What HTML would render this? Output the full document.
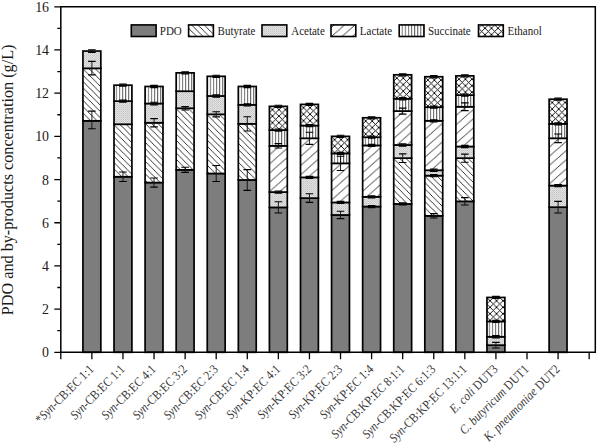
<!DOCTYPE html>
<html><head><meta charset="utf-8"><title>PDO and by-products</title>
<style>
html,body{margin:0;padding:0;background:#fff;}
body{width:597px;height:445px;overflow:hidden;}
svg{display:block;font-family:"Liberation Serif",serif;}
</style></head><body>
<svg width="597" height="445" viewBox="0 0 597 445">
<defs>
<pattern id="pB" patternUnits="userSpaceOnUse" width="6.3" height="6.3"><rect width="6.3" height="6.3" fill="#fff"/><path d="M-1,-1 L7.3,7.3 M-7.3,-1 L1,7.3 M5.3,-1 L13.6,7.3" stroke="#111" stroke-width="0.85"/></pattern>
<pattern id="pL" patternUnits="userSpaceOnUse" width="10.4" height="9.2"><rect width="10.4" height="9.2" fill="#fff"/><path d="M0,9.2 L10.4,0 M-10.4,9.2 L0,0 M10.4,9.2 L20.8,0" stroke="#111" stroke-width="0.85"/></pattern>
<pattern id="pA" patternUnits="userSpaceOnUse" width="2" height="2"><rect width="2" height="2" fill="#e2e2e2"/><rect width="1" height="1" fill="#c4c4c4"/><rect x="1" y="1" width="1" height="1" fill="#d0d0d0"/></pattern>
<pattern id="pS" patternUnits="userSpaceOnUse" width="3.1" height="10"><rect width="3.1" height="10" fill="#fff"/><rect x="0" width="1" height="10" fill="#666"/></pattern>
<pattern id="pE" patternUnits="userSpaceOnUse" width="6.5" height="6.5"><rect width="6.5" height="6.5" fill="#fff"/><path d="M-1,-1 L7.5,7.5 M-1,7.5 L7.5,-1" stroke="#000" stroke-width="0.9"/></pattern>
</defs>
<rect x="82.93" y="120.8" width="17.9" height="231.5" fill="#7d7d7d" stroke="#000" stroke-width="1.7"/>
<g transform="translate(91.88,71.53)"><rect x="-8.95" y="-3.2" width="17.9" height="52.48" fill="url(#pB)" stroke="#000" stroke-width="1.7"/></g>
<g transform="translate(92,51)"><rect x="-9.07" y="0.05" width="17.9" height="17.28" fill="url(#pA)" stroke="#000" stroke-width="1.7"/></g>
<path d="M91.88,111.08V128.79" stroke="#111" stroke-width="0.95" fill="none"/><path d="M88.08,111.08H95.68M88.08,128.79H95.68" stroke="#000" stroke-width="1.15" fill="none"/>
<path d="M91.88,61.42V74.8" stroke="#111" stroke-width="0.95" fill="none"/><path d="M88.08,61.42H95.68M88.08,74.8H95.68" stroke="#000" stroke-width="1.15" fill="none"/>
<path d="M91.88,49.75V52.35" stroke="#111" stroke-width="0.95" fill="none"/><path d="M88.08,49.75H95.68M88.08,52.35H95.68" stroke="#000" stroke-width="1.15" fill="none"/>
<rect x="114.01" y="176.73" width="17.9" height="175.57" fill="#7d7d7d" stroke="#000" stroke-width="1.7"/>
<g transform="translate(122.96,127.46)"><rect x="-8.95" y="-3.2" width="17.9" height="52.48" fill="url(#pB)" stroke="#000" stroke-width="1.7"/></g>
<g transform="translate(123,101)"><rect x="-8.99" y="0.15" width="17.9" height="23.11" fill="url(#pA)" stroke="#000" stroke-width="1.7"/></g>
<g transform="translate(122,85.17)"><rect x="-7.99" y="0" width="17.9" height="15.98" fill="url(#pS)" stroke="#000" stroke-width="1.7"/></g>
<path d="M122.96,171.98V181.48" stroke="#111" stroke-width="0.95" fill="none"/><path d="M119.16,171.98H126.76M119.16,181.48H126.76" stroke="#000" stroke-width="1.15" fill="none"/>
<path d="M122.96,100.07V102.23" stroke="#111" stroke-width="0.95" fill="none"/><path d="M119.16,100.07H126.76M119.16,102.23H126.76" stroke="#000" stroke-width="1.15" fill="none"/>
<path d="M122.96,84.09V86.25" stroke="#111" stroke-width="0.95" fill="none"/><path d="M119.16,84.09H126.76M119.16,86.25H126.76" stroke="#000" stroke-width="1.15" fill="none"/>
<rect x="145.09" y="182.56" width="17.9" height="169.74" fill="#7d7d7d" stroke="#000" stroke-width="1.7"/>
<g transform="translate(154.04,125.95)"><rect x="-8.95" y="-3.2" width="17.9" height="59.82" fill="url(#pB)" stroke="#000" stroke-width="1.7"/></g>
<g transform="translate(154,104)"><rect x="-8.91" y="-0.47" width="17.9" height="19.22" fill="url(#pA)" stroke="#000" stroke-width="1.7"/></g>
<g transform="translate(154,86.47)"><rect x="-8.91" y="0" width="17.9" height="17.06" fill="url(#pS)" stroke="#000" stroke-width="1.7"/></g>
<path d="M154.04,178.03V187.1" stroke="#111" stroke-width="0.95" fill="none"/><path d="M150.24,178.03H157.84M150.24,187.1H157.84" stroke="#000" stroke-width="1.15" fill="none"/>
<path d="M154.04,118.64V126.85" stroke="#111" stroke-width="0.95" fill="none"/><path d="M150.24,118.64H157.84M150.24,126.85H157.84" stroke="#000" stroke-width="1.15" fill="none"/>
<path d="M154.04,102.23V104.82" stroke="#111" stroke-width="0.95" fill="none"/><path d="M150.24,102.23H157.84M150.24,104.82H157.84" stroke="#000" stroke-width="1.15" fill="none"/>
<path d="M154.04,85.39V87.55" stroke="#111" stroke-width="0.95" fill="none"/><path d="M150.24,85.39H157.84M150.24,87.55H157.84" stroke="#000" stroke-width="1.15" fill="none"/>
<rect x="176.17" y="169.82" width="17.9" height="182.48" fill="#7d7d7d" stroke="#000" stroke-width="1.7"/>
<g transform="translate(185.12,111.48)"><rect x="-8.95" y="-3.2" width="17.9" height="61.55" fill="url(#pB)" stroke="#000" stroke-width="1.7"/></g>
<g transform="translate(185,91)"><rect x="-8.83" y="0.22" width="17.9" height="17.06" fill="url(#pA)" stroke="#000" stroke-width="1.7"/></g>
<g transform="translate(185,72.86)"><rect x="-8.83" y="0" width="17.9" height="18.36" fill="url(#pS)" stroke="#000" stroke-width="1.7"/></g>
<path d="M185.12,167.23V172.41" stroke="#111" stroke-width="0.95" fill="none"/><path d="M181.32,167.23H188.92M181.32,172.41H188.92" stroke="#000" stroke-width="1.15" fill="none"/>
<path d="M185.12,106.55V110" stroke="#111" stroke-width="0.95" fill="none"/><path d="M181.32,106.55H188.92M181.32,110H188.92" stroke="#000" stroke-width="1.15" fill="none"/>
<path d="M185.12,71.78V73.94" stroke="#111" stroke-width="0.95" fill="none"/><path d="M181.32,71.78H188.92M181.32,73.94H188.92" stroke="#000" stroke-width="1.15" fill="none"/>
<rect x="207.25" y="173.49" width="17.9" height="178.81" fill="#7d7d7d" stroke="#000" stroke-width="1.7"/>
<g transform="translate(216.2,117.52)"><rect x="-8.95" y="-3.2" width="17.9" height="59.17" fill="url(#pB)" stroke="#000" stroke-width="1.7"/></g>
<g transform="translate(216,96)"><rect x="-8.75" y="-0.03" width="17.9" height="18.36" fill="url(#pA)" stroke="#000" stroke-width="1.7"/></g>
<g transform="translate(216,76.32)"><rect x="-8.75" y="0" width="17.9" height="19.65" fill="url(#pS)" stroke="#000" stroke-width="1.7"/></g>
<path d="M216.2,165.5V181.48" stroke="#111" stroke-width="0.95" fill="none"/><path d="M212.4,165.5H220M212.4,181.48H220" stroke="#000" stroke-width="1.15" fill="none"/>
<path d="M216.2,111.73V116.91" stroke="#111" stroke-width="0.95" fill="none"/><path d="M212.4,111.73H220M212.4,116.91H220" stroke="#000" stroke-width="1.15" fill="none"/>
<path d="M216.2,94.89V97.05" stroke="#111" stroke-width="0.95" fill="none"/><path d="M212.4,94.89H220M212.4,97.05H220" stroke="#000" stroke-width="1.15" fill="none"/>
<path d="M216.2,75.24V77.4" stroke="#111" stroke-width="0.95" fill="none"/><path d="M212.4,75.24H220M212.4,77.4H220" stroke="#000" stroke-width="1.15" fill="none"/>
<rect x="238.33" y="179.97" width="17.9" height="172.33" fill="#7d7d7d" stroke="#000" stroke-width="1.7"/>
<g transform="translate(247.28,127.02)"><rect x="-8.95" y="-3.2" width="17.9" height="56.15" fill="url(#pB)" stroke="#000" stroke-width="1.7"/></g>
<g transform="translate(247,105)"><rect x="-8.67" y="-0.18" width="17.9" height="19" fill="url(#pA)" stroke="#000" stroke-width="1.7"/></g>
<g transform="translate(247,86.47)"><rect x="-8.67" y="0" width="17.9" height="18.36" fill="url(#pS)" stroke="#000" stroke-width="1.7"/></g>
<path d="M247.28,169.61V190.34" stroke="#111" stroke-width="0.95" fill="none"/><path d="M243.48,169.61H251.08M243.48,190.34H251.08" stroke="#000" stroke-width="1.15" fill="none"/>
<path d="M247.28,116.7V130.95" stroke="#111" stroke-width="0.95" fill="none"/><path d="M243.48,116.7H251.08M243.48,130.95H251.08" stroke="#000" stroke-width="1.15" fill="none"/>
<path d="M247.28,103.74V105.9" stroke="#111" stroke-width="0.95" fill="none"/><path d="M243.48,103.74H251.08M243.48,105.9H251.08" stroke="#000" stroke-width="1.15" fill="none"/>
<path d="M247.28,85.39V87.55" stroke="#111" stroke-width="0.95" fill="none"/><path d="M243.48,85.39H251.08M243.48,87.55H251.08" stroke="#000" stroke-width="1.15" fill="none"/>
<rect x="269.41" y="207.4" width="17.9" height="144.9" fill="#7d7d7d" stroke="#000" stroke-width="1.7"/>
<g transform="translate(278,192)"><rect x="-8.59" y="0.07" width="17.9" height="15.33" fill="url(#pA)" stroke="#000" stroke-width="1.7"/></g>
<g transform="translate(278.36,146.95)"><rect x="-8.95" y="-1.1" width="17.9" height="46.21" fill="url(#pL)" stroke="#000" stroke-width="1.7"/></g>
<g transform="translate(278,130.09)"><rect x="-8.59" y="0" width="17.9" height="15.76" fill="url(#pS)" stroke="#000" stroke-width="1.7"/></g>
<g transform="translate(278.96,109.63)"><rect x="-9.55" y="-3.3" width="17.9" height="23.75" fill="url(#pE)" stroke="#000" stroke-width="1.7"/></g>
<path d="M278.36,201.78V213.01" stroke="#111" stroke-width="0.95" fill="none"/><path d="M274.56,201.78H282.16M274.56,213.01H282.16" stroke="#000" stroke-width="1.15" fill="none"/>
<path d="M278.36,190.99V193.14" stroke="#111" stroke-width="0.95" fill="none"/><path d="M274.56,190.99H282.16M274.56,193.14H282.16" stroke="#000" stroke-width="1.15" fill="none"/>
<path d="M278.36,143.69V148.01" stroke="#111" stroke-width="0.95" fill="none"/><path d="M274.56,143.69H282.16M274.56,148.01H282.16" stroke="#000" stroke-width="1.15" fill="none"/>
<path d="M278.36,129.01V131.17" stroke="#111" stroke-width="0.95" fill="none"/><path d="M274.56,129.01H282.16M274.56,131.17H282.16" stroke="#000" stroke-width="1.15" fill="none"/>
<path d="M278.36,105.25V107.41" stroke="#111" stroke-width="0.95" fill="none"/><path d="M274.56,105.25H282.16M274.56,107.41H282.16" stroke="#000" stroke-width="1.15" fill="none"/>
<rect x="300.49" y="198.11" width="17.9" height="154.19" fill="#7d7d7d" stroke="#000" stroke-width="1.7"/>
<g transform="translate(309,177)"><rect x="-8.51" y="0.38" width="17.9" height="20.73" fill="url(#pA)" stroke="#000" stroke-width="1.7"/></g>
<g transform="translate(309.44,139.39)"><rect x="-8.95" y="-1.1" width="17.9" height="39.09" fill="url(#pL)" stroke="#000" stroke-width="1.7"/></g>
<g transform="translate(309,125.55)"><rect x="-8.51" y="0" width="17.9" height="12.74" fill="url(#pS)" stroke="#000" stroke-width="1.7"/></g>
<g transform="translate(310.04,107.69)"><rect x="-9.55" y="-3.3" width="17.9" height="21.16" fill="url(#pE)" stroke="#000" stroke-width="1.7"/></g>
<path d="M309.44,193.79V202.43" stroke="#111" stroke-width="0.95" fill="none"/><path d="M305.64,193.79H313.24M305.64,202.43H313.24" stroke="#000" stroke-width="1.15" fill="none"/>
<path d="M309.44,176.3V178.46" stroke="#111" stroke-width="0.95" fill="none"/><path d="M305.64,176.3H313.24M305.64,178.46H313.24" stroke="#000" stroke-width="1.15" fill="none"/>
<path d="M309.44,132.25V144.34" stroke="#111" stroke-width="0.95" fill="none"/><path d="M305.64,132.25H313.24M305.64,144.34H313.24" stroke="#000" stroke-width="1.15" fill="none"/>
<path d="M309.44,124.47V126.63" stroke="#111" stroke-width="0.95" fill="none"/><path d="M305.64,124.47H313.24M305.64,126.63H313.24" stroke="#000" stroke-width="1.15" fill="none"/>
<path d="M309.44,103.31V105.47" stroke="#111" stroke-width="0.95" fill="none"/><path d="M305.64,103.31H313.24M305.64,105.47H313.24" stroke="#000" stroke-width="1.15" fill="none"/>
<rect x="331.57" y="214.96" width="17.9" height="137.34" fill="#7d7d7d" stroke="#000" stroke-width="1.7"/>
<g transform="translate(341,202)"><rect x="-9.43" y="0.43" width="17.9" height="12.53" fill="url(#pA)" stroke="#000" stroke-width="1.7"/></g>
<g transform="translate(340.52,164.44)"><rect x="-8.95" y="-1.1" width="17.9" height="39.09" fill="url(#pL)" stroke="#000" stroke-width="1.7"/></g>
<g transform="translate(340,153.41)"><rect x="-8.43" y="0" width="17.9" height="9.93" fill="url(#pS)" stroke="#000" stroke-width="1.7"/></g>
<g transform="translate(341.12,139.65)"><rect x="-9.55" y="-3.3" width="17.9" height="17.06" fill="url(#pE)" stroke="#000" stroke-width="1.7"/></g>
<path d="M340.52,211.28V218.63" stroke="#111" stroke-width="0.95" fill="none"/><path d="M336.72,211.28H344.32M336.72,218.63H344.32" stroke="#000" stroke-width="1.15" fill="none"/>
<path d="M340.52,201.35V203.51" stroke="#111" stroke-width="0.95" fill="none"/><path d="M336.72,201.35H344.32M336.72,203.51H344.32" stroke="#000" stroke-width="1.15" fill="none"/>
<path d="M340.52,156.22V170.47" stroke="#111" stroke-width="0.95" fill="none"/><path d="M336.72,156.22H344.32M336.72,170.47H344.32" stroke="#000" stroke-width="1.15" fill="none"/>
<path d="M340.52,152.33V154.49" stroke="#111" stroke-width="0.95" fill="none"/><path d="M336.72,152.33H344.32M336.72,154.49H344.32" stroke="#000" stroke-width="1.15" fill="none"/>
<path d="M340.52,135.27V137.43" stroke="#111" stroke-width="0.95" fill="none"/><path d="M336.72,135.27H344.32M336.72,137.43H344.32" stroke="#000" stroke-width="1.15" fill="none"/>
<rect x="362.65" y="206.53" width="17.9" height="145.77" fill="#7d7d7d" stroke="#000" stroke-width="1.7"/>
<g transform="translate(372,197)"><rect x="-9.35" y="-0.18" width="17.9" height="9.72" fill="url(#pA)" stroke="#000" stroke-width="1.7"/></g>
<g transform="translate(371.6,146.52)"><rect x="-8.95" y="-1.1" width="17.9" height="51.4" fill="url(#pL)" stroke="#000" stroke-width="1.7"/></g>
<g transform="translate(371,137.21)"><rect x="-8.35" y="0" width="17.9" height="8.21" fill="url(#pS)" stroke="#000" stroke-width="1.7"/></g>
<g transform="translate(372.2,121.08)"><rect x="-9.55" y="-3.3" width="17.9" height="19.44" fill="url(#pE)" stroke="#000" stroke-width="1.7"/></g>
<path d="M371.6,205.45V207.61" stroke="#111" stroke-width="0.95" fill="none"/><path d="M367.8,205.45H375.4M367.8,207.61H375.4" stroke="#000" stroke-width="1.15" fill="none"/>
<path d="M371.6,195.74V197.9" stroke="#111" stroke-width="0.95" fill="none"/><path d="M367.8,195.74H375.4M367.8,197.9H375.4" stroke="#000" stroke-width="1.15" fill="none"/>
<path d="M371.6,144.34V146.5" stroke="#111" stroke-width="0.95" fill="none"/><path d="M367.8,144.34H375.4M367.8,146.5H375.4" stroke="#000" stroke-width="1.15" fill="none"/>
<path d="M371.6,136.13V138.29" stroke="#111" stroke-width="0.95" fill="none"/><path d="M367.8,136.13H375.4M367.8,138.29H375.4" stroke="#000" stroke-width="1.15" fill="none"/>
<path d="M371.6,116.7V118.86" stroke="#111" stroke-width="0.95" fill="none"/><path d="M367.8,116.7H375.4M367.8,118.86H375.4" stroke="#000" stroke-width="1.15" fill="none"/>
<rect x="393.73" y="203.94" width="17.9" height="148.36" fill="#7d7d7d" stroke="#000" stroke-width="1.7"/>
<g transform="translate(402.68,161.36)"><rect x="-8.95" y="-3.2" width="17.9" height="45.78" fill="url(#pB)" stroke="#000" stroke-width="1.7"/></g>
<g transform="translate(403,145)"><rect x="-9.27" y="-0.01" width="17.9" height="13.17" fill="url(#pA)" stroke="#000" stroke-width="1.7"/></g>
<g transform="translate(402.68,112.18)"><rect x="-8.95" y="-1.1" width="17.9" height="33.9" fill="url(#pL)" stroke="#000" stroke-width="1.7"/></g>
<g transform="translate(402,98.77)"><rect x="-8.27" y="0" width="17.9" height="12.31" fill="url(#pS)" stroke="#000" stroke-width="1.7"/></g>
<g transform="translate(403.28,78.1)"><rect x="-9.55" y="-3.3" width="17.9" height="23.97" fill="url(#pE)" stroke="#000" stroke-width="1.7"/></g>
<path d="M402.68,202.86V205.02" stroke="#111" stroke-width="0.95" fill="none"/><path d="M398.88,202.86H406.48M398.88,205.02H406.48" stroke="#000" stroke-width="1.15" fill="none"/>
<path d="M402.68,153.84V162.48" stroke="#111" stroke-width="0.95" fill="none"/><path d="M398.88,153.84H406.48M398.88,162.48H406.48" stroke="#000" stroke-width="1.15" fill="none"/>
<path d="M402.68,143.91V146.07" stroke="#111" stroke-width="0.95" fill="none"/><path d="M398.88,143.91H406.48M398.88,146.07H406.48" stroke="#000" stroke-width="1.15" fill="none"/>
<path d="M402.68,108.06V114.11" stroke="#111" stroke-width="0.95" fill="none"/><path d="M398.88,108.06H406.48M398.88,114.11H406.48" stroke="#000" stroke-width="1.15" fill="none"/>
<path d="M402.68,97.69V99.85" stroke="#111" stroke-width="0.95" fill="none"/><path d="M398.88,97.69H406.48M398.88,99.85H406.48" stroke="#000" stroke-width="1.15" fill="none"/>
<path d="M402.68,73.72V75.88" stroke="#111" stroke-width="0.95" fill="none"/><path d="M398.88,73.72H406.48M398.88,75.88H406.48" stroke="#000" stroke-width="1.15" fill="none"/>
<rect x="424.81" y="215.82" width="17.9" height="136.48" fill="#7d7d7d" stroke="#000" stroke-width="1.7"/>
<g transform="translate(433.76,178.85)"><rect x="-8.95" y="-3.2" width="17.9" height="40.17" fill="url(#pB)" stroke="#000" stroke-width="1.7"/></g>
<g transform="translate(434,170)"><rect x="-9.19" y="0.25" width="17.9" height="5.4" fill="url(#pA)" stroke="#000" stroke-width="1.7"/></g>
<g transform="translate(433.76,121.9)"><rect x="-8.95" y="-1.1" width="17.9" height="49.45" fill="url(#pL)" stroke="#000" stroke-width="1.7"/></g>
<g transform="translate(433,107.2)"><rect x="-8.19" y="0" width="17.9" height="13.6" fill="url(#pS)" stroke="#000" stroke-width="1.7"/></g>
<g transform="translate(434.36,80.05)"><rect x="-9.55" y="-3.3" width="17.9" height="30.45" fill="url(#pE)" stroke="#000" stroke-width="1.7"/></g>
<path d="M433.76,213.66V217.98" stroke="#111" stroke-width="0.95" fill="none"/><path d="M429.96,213.66H437.56M429.96,217.98H437.56" stroke="#000" stroke-width="1.15" fill="none"/>
<path d="M433.76,174.57V176.73" stroke="#111" stroke-width="0.95" fill="none"/><path d="M429.96,174.57H437.56M429.96,176.73H437.56" stroke="#000" stroke-width="1.15" fill="none"/>
<path d="M433.76,169.17V171.33" stroke="#111" stroke-width="0.95" fill="none"/><path d="M429.96,169.17H437.56M429.96,171.33H437.56" stroke="#000" stroke-width="1.15" fill="none"/>
<path d="M433.76,119.72V121.88" stroke="#111" stroke-width="0.95" fill="none"/><path d="M429.96,119.72H437.56M429.96,121.88H437.56" stroke="#000" stroke-width="1.15" fill="none"/>
<path d="M433.76,106.12V108.28" stroke="#111" stroke-width="0.95" fill="none"/><path d="M429.96,106.12H437.56M429.96,108.28H437.56" stroke="#000" stroke-width="1.15" fill="none"/>
<path d="M433.76,75.67V77.83" stroke="#111" stroke-width="0.95" fill="none"/><path d="M429.96,75.67H437.56M429.96,77.83H437.56" stroke="#000" stroke-width="1.15" fill="none"/>
<rect x="455.89" y="201.35" width="17.9" height="150.95" fill="#7d7d7d" stroke="#000" stroke-width="1.7"/>
<g transform="translate(464.84,161.36)"><rect x="-8.95" y="-3.2" width="17.9" height="43.19" fill="url(#pB)" stroke="#000" stroke-width="1.7"/></g>
<g transform="translate(465,146)"><rect x="-9.11" y="0.5" width="17.9" height="11.66" fill="url(#pA)" stroke="#000" stroke-width="1.7"/></g>
<g transform="translate(464.84,107.86)"><rect x="-8.95" y="-1.1" width="17.9" height="39.73" fill="url(#pL)" stroke="#000" stroke-width="1.7"/></g>
<g transform="translate(464,95.1)"><rect x="-8.11" y="0" width="17.9" height="11.66" fill="url(#pS)" stroke="#000" stroke-width="1.7"/></g>
<g transform="translate(465.44,79.18)"><rect x="-9.55" y="-3.3" width="17.9" height="19.22" fill="url(#pE)" stroke="#000" stroke-width="1.7"/></g>
<path d="M464.84,197.68V205.02" stroke="#111" stroke-width="0.95" fill="none"/><path d="M461.04,197.68H468.64M461.04,205.02H468.64" stroke="#000" stroke-width="1.15" fill="none"/>
<path d="M464.84,154.06V162.26" stroke="#111" stroke-width="0.95" fill="none"/><path d="M461.04,154.06H468.64M461.04,162.26H468.64" stroke="#000" stroke-width="1.15" fill="none"/>
<path d="M464.84,145.42V147.58" stroke="#111" stroke-width="0.95" fill="none"/><path d="M461.04,145.42H468.64M461.04,147.58H468.64" stroke="#000" stroke-width="1.15" fill="none"/>
<path d="M464.84,102.88V110.65" stroke="#111" stroke-width="0.95" fill="none"/><path d="M461.04,102.88H468.64M461.04,110.65H468.64" stroke="#000" stroke-width="1.15" fill="none"/>
<path d="M464.84,94.02V96.18" stroke="#111" stroke-width="0.95" fill="none"/><path d="M461.04,94.02H468.64M461.04,96.18H468.64" stroke="#000" stroke-width="1.15" fill="none"/>
<path d="M464.84,74.8V76.96" stroke="#111" stroke-width="0.95" fill="none"/><path d="M461.04,74.8H468.64M461.04,76.96H468.64" stroke="#000" stroke-width="1.15" fill="none"/>
<rect x="486.97" y="345.17" width="17.9" height="7.13" fill="#7d7d7d" stroke="#000" stroke-width="1.7"/>
<g transform="translate(496,337)"><rect x="-9.03" y="-0.25" width="17.9" height="8.42" fill="url(#pA)" stroke="#000" stroke-width="1.7"/></g>
<g transform="translate(495,321.42)"><rect x="-8.03" y="0" width="17.9" height="15.33" fill="url(#pS)" stroke="#000" stroke-width="1.7"/></g>
<g transform="translate(496.52,300.75)"><rect x="-9.55" y="-3.3" width="17.9" height="23.97" fill="url(#pE)" stroke="#000" stroke-width="1.7"/></g>
<path d="M495.92,342.37V347.98" stroke="#111" stroke-width="0.95" fill="none"/><path d="M492.12,342.37H499.72M492.12,347.98H499.72" stroke="#000" stroke-width="1.15" fill="none"/>
<path d="M495.92,335.67V337.83" stroke="#111" stroke-width="0.95" fill="none"/><path d="M492.12,335.67H499.72M492.12,337.83H499.72" stroke="#000" stroke-width="1.15" fill="none"/>
<path d="M495.92,320.34V322.5" stroke="#111" stroke-width="0.95" fill="none"/><path d="M492.12,320.34H499.72M492.12,322.5H499.72" stroke="#000" stroke-width="1.15" fill="none"/>
<path d="M495.92,296.37V298.53" stroke="#111" stroke-width="0.95" fill="none"/><path d="M492.12,296.37H499.72M492.12,298.53H499.72" stroke="#000" stroke-width="1.15" fill="none"/>
<rect x="549.13" y="207.18" width="17.9" height="145.12" fill="#7d7d7d" stroke="#000" stroke-width="1.7"/>
<g transform="translate(558,186)"><rect x="-8.87" y="-0.41" width="17.9" height="21.59" fill="url(#pA)" stroke="#000" stroke-width="1.7"/></g>
<g transform="translate(558.08,139.39)"><rect x="-8.95" y="-1.1" width="17.9" height="47.29" fill="url(#pL)" stroke="#000" stroke-width="1.7"/></g>
<g transform="translate(558,123.82)"><rect x="-8.87" y="0" width="17.9" height="14.47" fill="url(#pS)" stroke="#000" stroke-width="1.7"/></g>
<g transform="translate(558.68,102.51)"><rect x="-9.55" y="-3.3" width="17.9" height="24.62" fill="url(#pE)" stroke="#000" stroke-width="1.7"/></g>
<path d="M558.08,201.35V213.01" stroke="#111" stroke-width="0.95" fill="none"/><path d="M554.28,201.35H561.88M554.28,213.01H561.88" stroke="#000" stroke-width="1.15" fill="none"/>
<path d="M558.08,184.51V186.67" stroke="#111" stroke-width="0.95" fill="none"/><path d="M554.28,184.51H561.88M554.28,186.67H561.88" stroke="#000" stroke-width="1.15" fill="none"/>
<path d="M558.08,133.97V142.61" stroke="#111" stroke-width="0.95" fill="none"/><path d="M554.28,133.97H561.88M554.28,142.61H561.88" stroke="#000" stroke-width="1.15" fill="none"/>
<path d="M558.08,122.75V124.9" stroke="#111" stroke-width="0.95" fill="none"/><path d="M554.28,122.75H561.88M554.28,124.9H561.88" stroke="#000" stroke-width="1.15" fill="none"/>
<path d="M558.08,98.13V100.29" stroke="#111" stroke-width="0.95" fill="none"/><path d="M554.28,98.13H561.88M554.28,100.29H561.88" stroke="#000" stroke-width="1.15" fill="none"/>
<path d="M60.8,6.8H595.3V352.3H60.8Z" fill="none" stroke="#000" stroke-width="1.5"/>
<path d="M54.3,352.3H60.8M57.3,330.71H60.8M54.3,309.11H60.8M57.3,287.51H60.8M54.3,265.92H60.8M57.3,244.33H60.8M54.3,222.73H60.8M57.3,201.14H60.8M54.3,179.54H60.8M57.3,157.95H60.8M54.3,136.35H60.8M57.3,114.76H60.8M54.3,93.16H60.8M57.3,71.56H60.8M54.3,49.97H60.8M57.3,28.38H60.8M54.3,6.78H60.8M60.8,352.3V359.3M91.88,352.3V359.3M122.96,352.3V359.3M154.04,352.3V359.3M185.12,352.3V359.3M216.2,352.3V359.3M247.28,352.3V359.3M278.36,352.3V359.3M309.44,352.3V359.3M340.52,352.3V359.3M371.6,352.3V359.3M402.68,352.3V359.3M433.76,352.3V359.3M464.84,352.3V359.3M495.92,352.3V359.3M527,352.3V359.3M558.08,352.3V359.3M589.16,352.3V359.3" stroke="#000" stroke-width="1.3" fill="none"/>
<text transform="translate(49.0,357.3) scale(0.89,1)" font-size="15.6" text-anchor="end" fill="#1a1a1a">0</text>
<text transform="translate(49.0,314.11) scale(0.89,1)" font-size="15.6" text-anchor="end" fill="#1a1a1a">2</text>
<text transform="translate(49.0,270.92) scale(0.89,1)" font-size="15.6" text-anchor="end" fill="#1a1a1a">4</text>
<text transform="translate(49.0,227.73) scale(0.89,1)" font-size="15.6" text-anchor="end" fill="#1a1a1a">6</text>
<text transform="translate(49.0,184.54) scale(0.89,1)" font-size="15.6" text-anchor="end" fill="#1a1a1a">8</text>
<text transform="translate(49.0,141.35) scale(0.89,1)" font-size="15.6" text-anchor="end" fill="#1a1a1a">10</text>
<text transform="translate(49.0,98.16) scale(0.89,1)" font-size="15.6" text-anchor="end" fill="#1a1a1a">12</text>
<text transform="translate(49.0,54.97) scale(0.89,1)" font-size="15.6" text-anchor="end" fill="#1a1a1a">14</text>
<text transform="translate(49.0,11.78) scale(0.89,1)" font-size="15.6" text-anchor="end" fill="#1a1a1a">16</text>
<text transform="translate(13.3,315.2) rotate(-90)" font-size="16.2" fill="#1a1a1a">PDO and by-products concentration (g/L)</text>
<rect x="131.3" y="24.9" width="24.8" height="11.6" fill="#7d7d7d" stroke="#000" stroke-width="1.6"/>
<text transform="translate(159.8,34.65) scale(0.925,1)" font-size="11.9" fill="#1a1a1a">PDO</text>
<g transform="translate(201,28.1)"><rect x="-12.4" y="-3.2" width="24.8" height="11.6" fill="url(#pB)" stroke="#000" stroke-width="1.6"/></g>
<text transform="translate(217.6,34.65) scale(0.925,1)" font-size="11.9" fill="#1a1a1a">Butyrate</text>
<g transform="translate(274,25)"><rect x="-12" y="-0.1" width="24.8" height="11.6" fill="url(#pA)" stroke="#000" stroke-width="1.6"/></g>
<text transform="translate(291.2,34.65) scale(0.925,1)" font-size="11.9" fill="#1a1a1a">Acetate</text>
<g transform="translate(343.4,26)"><rect x="-12.4" y="-1.1" width="24.8" height="11.6" fill="url(#pL)" stroke="#000" stroke-width="1.6"/></g>
<text transform="translate(359.8,34.65) scale(0.925,1)" font-size="11.9" fill="#1a1a1a">Lactate</text>
<g transform="translate(411,24.9)"><rect x="-11.8" y="0" width="24.8" height="11.6" fill="url(#pS)" stroke="#000" stroke-width="1.6"/></g>
<text transform="translate(428,34.65) scale(0.925,1)" font-size="11.9" fill="#1a1a1a">Succinate</text>
<g transform="translate(491.5,28.2)"><rect x="-13" y="-3.3" width="24.8" height="11.6" fill="url(#pE)" stroke="#000" stroke-width="1.6"/></g>
<text transform="translate(507.6,34.65) scale(0.925,1)" font-size="11.9" fill="#1a1a1a">Ethanol</text>
<text transform="translate(94.48,370) rotate(-45) scale(0.89,1)" font-size="12.9" text-anchor="end" fill="#383838">*<tspan font-style="italic">Syn</tspan>-CB:EC 1:1</text>
<text transform="translate(125.56,370) rotate(-45) scale(0.89,1)" font-size="12.9" text-anchor="end" fill="#383838"><tspan font-style="italic">Syn</tspan>-CB:EC 1:1</text>
<text transform="translate(156.64,370) rotate(-45) scale(0.89,1)" font-size="12.9" text-anchor="end" fill="#383838"><tspan font-style="italic">Syn</tspan>-CB:EC 4:1</text>
<text transform="translate(187.72,370) rotate(-45) scale(0.89,1)" font-size="12.9" text-anchor="end" fill="#383838"><tspan font-style="italic">Syn</tspan>-CB:EC 3:2</text>
<text transform="translate(218.8,370) rotate(-45) scale(0.89,1)" font-size="12.9" text-anchor="end" fill="#383838"><tspan font-style="italic">Syn</tspan>-CB:EC 2:3</text>
<text transform="translate(249.88,370) rotate(-45) scale(0.89,1)" font-size="12.9" text-anchor="end" fill="#383838"><tspan font-style="italic">Syn</tspan>-CB:EC 1:4</text>
<text transform="translate(280.96,370) rotate(-45) scale(0.89,1)" font-size="12.9" text-anchor="end" fill="#383838"><tspan font-style="italic">Syn</tspan>-KP:EC 4:1</text>
<text transform="translate(312.04,370) rotate(-45) scale(0.89,1)" font-size="12.9" text-anchor="end" fill="#383838"><tspan font-style="italic">Syn</tspan>-KP:EC 3:2</text>
<text transform="translate(343.12,370) rotate(-45) scale(0.89,1)" font-size="12.9" text-anchor="end" fill="#383838"><tspan font-style="italic">Syn</tspan>-KP:EC 2:3</text>
<text transform="translate(374.2,370) rotate(-45) scale(0.89,1)" font-size="12.9" text-anchor="end" fill="#383838"><tspan font-style="italic">Syn</tspan>-KP:EC 1:4</text>
<text transform="translate(405.28,370) rotate(-45) scale(0.89,1)" font-size="12.9" text-anchor="end" fill="#383838"><tspan font-style="italic">Syn</tspan>-CB:KP:EC 8:1:1</text>
<text transform="translate(436.36,370) rotate(-45) scale(0.89,1)" font-size="12.9" text-anchor="end" fill="#383838"><tspan font-style="italic">Syn</tspan>-CB:KP:EC 6:1:3</text>
<text transform="translate(467.44,370) rotate(-45) scale(0.89,1)" font-size="12.9" text-anchor="end" fill="#383838"><tspan font-style="italic">Syn</tspan>-CB:KP:EC 13:1:1</text>
<text transform="translate(498.52,370) rotate(-45) scale(0.89,1)" font-size="12.9" text-anchor="end" fill="#383838"><tspan font-style="italic">E. coli</tspan> DUT3</text>
<text transform="translate(529.6,370) rotate(-45) scale(0.89,1)" font-size="12.9" text-anchor="end" fill="#383838"><tspan font-style="italic">C. butyricum</tspan> DUT1</text>
<text transform="translate(560.68,370) rotate(-45) scale(0.89,1)" font-size="12.9" text-anchor="end" fill="#383838"><tspan font-style="italic">K. pneumoniae</tspan> DUT2</text>
</svg>
</body></html>
